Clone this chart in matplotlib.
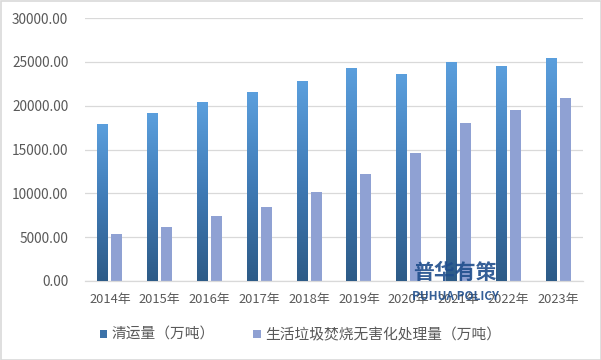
import matplotlib
matplotlib.use("Agg")
import matplotlib.pyplot as plt
import numpy as np
from matplotlib.colors import LinearSegmentedColormap
from matplotlib.patches import Rectangle

years = ["2014年", "2015年", "2016年", "2017年", "2018年", "2019年", "2020年", "2021年", "2022年", "2023年"]
clearance = [17860, 19142, 20362, 21521, 22802, 24206, 23512, 24869, 24445, 25407]
incineration = [5330, 6176, 7378, 8463, 10185, 12174, 14608, 18020, 19502, 20875]
series_names = ["清运量（万吨）", "生活垃圾焚烧无害化处理量（万吨）"]
yticks = [0, 5000, 10000, 15000, 20000, 25000, 30000]

plt.rcParams['font.family'] = ['Noto Sans CJK SC', 'DejaVu Sans']
text_color = "#595959"

fig = plt.figure(figsize=(6.01, 3.6), dpi=100)
ax = fig.add_axes([85/601, 1-281/360, 498/601, 263/360])

x = np.arange(len(years))
w = 0.22
off = 0.14
grey = "#8FA1D3"
blue_cmap = LinearSegmentedColormap.from_list("b", ["#2D5B87", "#3F7AB5", "#5B9FDD"])

bars_b = ax.bar(x - off, clearance, width=w, color="#4A86C4", zorder=2, label=series_names[0])
bars_g = ax.bar(x + off, incineration, width=w, color=grey, zorder=2, label=series_names[1])

grad = np.linspace(0, 1, 256).reshape(-1, 1)
for b in bars_b:
    x0, y0 = b.get_x(), b.get_y()
    ax.imshow(grad, cmap=blue_cmap, origin="lower", aspect="auto",
              extent=(x0, x0 + b.get_width(), y0, y0 + b.get_height()), zorder=3)

ax.set_xlim(-0.5, len(years) - 0.5)
ax.set_ylim(0, 30000)
ax.set_yticks(yticks)
ax.set_yticklabels([f"{v:.2f}" for v in yticks])
ax.set_xticks(x)
ax.set_xticklabels(years)
ax.tick_params(axis='both', length=0, colors=text_color)
ax.tick_params(axis='y', pad=12, labelsize=9.8)
ax.tick_params(axis='x', pad=9, labelsize=9.3)
ax.grid(axis='y', color="#D9D9D9", linewidth=0.9, zorder=0)
ax.set_axisbelow(True)
for s in ["top", "right", "left"]:
    ax.spines[s].set_visible(False)
ax.spines["bottom"].set_color("#D9D9D9")
ax.spines["bottom"].set_linewidth(0.9)

h1 = Rectangle((0, 0), 1, 1, facecolor="#3C72A8")
h2 = Rectangle((0, 0), 1, 1, facecolor=grey)
fig.legend([h1, h2], series_names, loc="center", bbox_to_anchor=(0.5, 1-335/360),
           ncol=2, frameon=False, fontsize=10.6, labelcolor=text_color,
           handlelength=0.5, handleheight=0.5, handletextpad=0.3, columnspacing=2.6)

# watermark
fig.text(455/601, 1-272/360, "普华有策", ha="center", va="center", fontsize=15,
         fontweight="bold", color="#1F4E8C", alpha=0.9, zorder=10)
fig.text(455/601, 1-297/360, "PUHUA POLICY", ha="center", va="center", fontsize=8.5,
         fontweight="bold", color="#1F4E8C", alpha=0.9, zorder=10)

fig.patches.append(Rectangle((0.5/601, 0.5/360), 1-1/601, 1-1/360, transform=fig.transFigure,
                             fill=False, edgecolor="#D9D9D9", linewidth=1.2))

fig.savefig("out.png", dpi=100)
